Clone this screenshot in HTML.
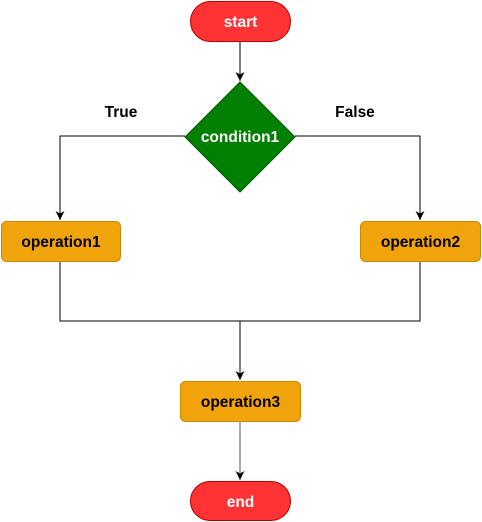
<!DOCTYPE html>
<html><head><meta charset="utf-8"><style>body{margin:0;background:#fff}svg{display:block}</style></head><body>
<svg width="482" height="522" viewBox="0 0 482 522" xmlns="http://www.w3.org/2000/svg" font-family="Liberation Sans, sans-serif" font-weight="bold" font-size="15.5">
<defs><marker id="a" markerWidth="10" markerHeight="10" refX="9" refY="4.5" orient="auto" markerUnits="userSpaceOnUse"><path d="M0,0 L9,4.5 L0,9 L2.5,4.5 Z" fill="#000"/></marker></defs>
<g stroke="#000" stroke-width="1" fill="none">
<path d="M240,41 V81" marker-end="url(#a)"/>
<path d="M185,136 H60 V220" marker-end="url(#a)"/>
<path d="M295,136 H420 V220" marker-end="url(#a)"/>
<path d="M60,261 V321 H420 V261"/>
<path d="M240,321 V380" marker-end="url(#a)"/>
<path d="M240,421 V480" stroke="#555" marker-end="url(#a)"/>
</g>
<rect x="190.5" y="1.5" width="100" height="40" rx="20" fill="#ff3333" stroke="#b20000"/>
<text x="240.5" y="27" text-anchor="middle" fill="#fff">start</text>
<polygon points="240,82 295,137 240,192 185,137" fill="#008000" stroke="#005700"/>
<text x="240" y="142" text-anchor="middle" fill="#fff">condition1</text>
<text x="121" y="117" text-anchor="middle">True</text>
<text x="355" y="117" text-anchor="middle">False</text>
<rect x="1.5" y="221.5" width="119" height="40" rx="5" fill="#f0a30a" stroke="#c78a00"/>
<text x="61" y="247" text-anchor="middle">operation1</text>
<rect x="360.5" y="221.5" width="120" height="40" rx="5" fill="#f0a30a" stroke="#c78a00"/>
<text x="420.5" y="247" text-anchor="middle">operation2</text>
<rect x="180.5" y="381.5" width="120" height="40" rx="5" fill="#f0a30a" stroke="#c78a00"/>
<text x="240.5" y="407" text-anchor="middle">operation3</text>
<rect x="190.5" y="481.5" width="100" height="39" rx="19.5" fill="#ff3333" stroke="#b20000"/>
<text x="240.5" y="507" text-anchor="middle" fill="#fff">end</text>
</svg>
</body></html>
